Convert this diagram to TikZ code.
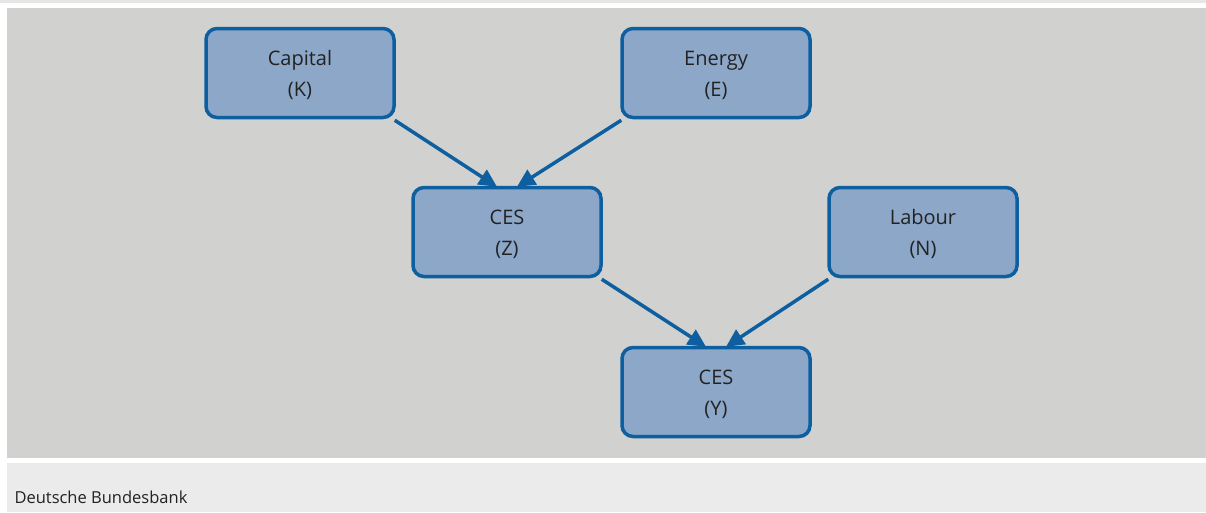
\documentclass[tikz,border=0pt]{standalone}
\usepackage{fontspec}
\setmainfont{Open Sans}
\usetikzlibrary{arrows.meta}
\definecolor{bggray}{HTML}{D1D1CF}
\definecolor{footgray}{HTML}{EBEBEB}
\definecolor{topgray}{HTML}{E6E6E6}
\definecolor{boxfill}{HTML}{8DA7C9}
\definecolor{boxline}{HTML}{0D5FA0}
\definecolor{txt}{HTML}{222222}
\tikzset{
  boxnode/.style={draw=boxline, fill=boxfill, line width=3.5pt, rounded corners=11pt,
    minimum width=188pt, minimum height=89pt, align=center, text=txt,
    font=\fontsize{20}{31}\selectfont, inner sep=0pt},
  boxtext/.style={text=txt, font=\fontsize{20}{31}\selectfont, align=center, inner sep=0pt},
  conn/.style={draw=boxline, line width=3.5pt, -{Triangle[length=18pt,width=17pt]}}
}
\begin{document}
\begin{tikzpicture}[x=1pt,y=-1pt]
\useasboundingbox (0,0) rectangle (1206,512);
\fill[white] (0,0) rectangle (1206,512);
\fill[topgray] (0,0) rectangle (1206,3);
\fill[bggray] (7,8) rectangle (1206,458);
\fill[footgray] (7,463) rectangle (1206,512);
\node[anchor=west, text=txt, font=\fontsize{16.5}{18}\selectfont] (foot) at (11,497) {Deutsche Bundesbank};
\node[boxnode] (cap) at (300,73) {};
\node[boxnode] (ene) at (716,73) {};
\node[boxnode] (z) at (507,232) {};
\node[boxnode] (lab) at (923,232) {};
\node[boxnode] (y) at (716,392) {};
\node[boxtext] (capt) at ([yshift=-2pt]cap.center) {Capital\\(K)};
\node[boxtext] (enet) at ([yshift=-2pt]ene.center) {Energy\\(E)};
\node[boxtext] (zt) at ([yshift=-2pt]z.center) {CES\\(Z)};
\node[boxtext] (labt) at ([yshift=-2pt]lab.center) {Labour\\(N)};
\node[boxtext] (yt) at ([yshift=-2pt]y.center) {CES\\(Y)};
\draw[conn] ([xshift=-1pt,yshift=-1pt]cap.south east) -- ([xshift=-10pt,yshift=-1pt]z.north);
\draw[conn] ([xshift=1pt,yshift=-1pt]ene.south west) -- ([xshift=10pt,yshift=-1pt]z.north);
\draw[conn] ([xshift=-1pt,yshift=-1pt]z.south east) -- ([xshift=-10pt,yshift=-1pt]y.north);
\draw[conn] ([xshift=1pt,yshift=-1pt]lab.south west) -- ([xshift=10pt,yshift=-1pt]y.north);
\end{tikzpicture}
\end{document}
